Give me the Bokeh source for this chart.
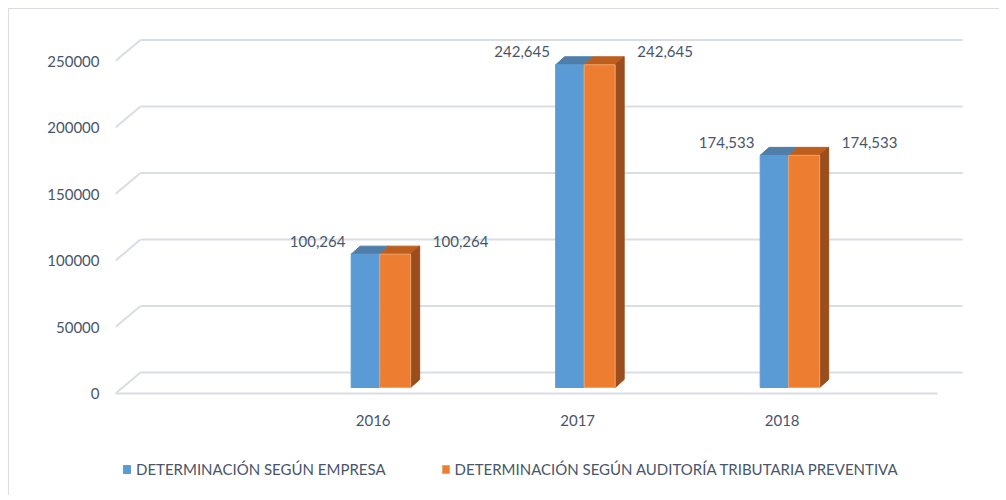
from bokeh.plotting import figure
from bokeh.models import Range1d, FixedTicker, Legend, LegendItem, PrintfTickFormatter
from bokeh.core.properties import value
from bokeh.embed import file_html
from bokeh.resources import INLINE

# ---- data ----
years = ["2016", "2017", "2018"]
empresa = [100264, 242645, 174533]
auditoria = [100264, 242645, 174533]
y_ticks = [0, 50000, 100000, 150000, 200000, 250000]
series_names = ["DETERMINACIÓN SEGÚN EMPRESA",
                "DETERMINACIÓN SEGÚN AUDITORÍA TRIBUTARIA PREVENTIVA"]

# ---- style ----
FONT = "Lato"
TEXT = "#48556a"
GRID = "#d9dde4"
BLUE = "#5b9bd5"
BLUE_TOP = "#4f7ea9"
ORANGE = "#ed7d31"
ORANGE_TOP = "#bd5e1f"
ORANGE_SIDE = "#9a4e1d"

PX_X = 204.5      # px per category unit
PX_Y = 0.00133    # px per value unit
frame_w, frame_h = 851, 465
x_start = -0.26
y_start = -102 / PX_Y          # frame bottom lies 102 px below the zero line

p = figure(frame_width=frame_w, frame_height=frame_h,
           x_range=Range1d(x_start, x_start + frame_w / PX_X),
           y_range=Range1d(y_start, y_start + frame_h / PX_Y),
           output_backend="svg", toolbar_location=None,
           min_border_left=106, min_border_right=33,
           min_border_top=21, min_border_bottom=0)
p.styles = {"border-top": "1px solid #d9dce1", "border-left": "1px solid #d9dce1",
            "margin-left": "8px", "margin-top": "8px"}
p.outline_line_color = None
p.xgrid.visible = False
p.ygrid.visible = False
p.background_fill_color = "white"
p.border_fill_color = "white"

# ---- walls / floor ----
wall_dx = 25 / PX_X
wall_dy = 21 / PX_Y
floor_x0, floor_x1 = -0.26, 3.76
n = len(y_ticks)
p.segment(x0=[floor_x0 + wall_dx] * n, y0=[v + wall_dy for v in y_ticks],
          x1=[floor_x1 + wall_dx] * n, y1=[v + wall_dy for v in y_ticks],
          line_color=GRID, line_width=2)
p.segment(x0=[floor_x0] * n, y0=y_ticks,
          x1=[floor_x0 + wall_dx] * n, y1=[v + wall_dy for v in y_ticks],
          line_color=GRID, line_width=2)
p.segment(x0=[floor_x0], y0=[0], x1=[floor_x1], y1=[0], line_color=GRID, line_width=2)

# ---- bars ----
z0 = 6 / PX_Y
bdx = 9 / PX_X
bdy = 8 / PX_Y
centers = [i + 1 + 6.5 / PX_X for i in range(len(years))]
bw_blue = 28.5 / PX_X
bw_orange = 31 / PX_X

def top_face(l, r, v):
    return ([l, r, r + bdx, l + bdx], [z0 + v, z0 + v, z0 + v + bdy, z0 + v + bdy])

bl = [c - bw_blue for c in centers]
br = centers
ol = centers
orr = [c + bw_orange for c in centers]

xs, ys = zip(*[top_face(l, r, v) for l, r, v in zip(bl, br, empresa)])
p.patches(list(xs), list(ys), fill_color=BLUE_TOP, line_color=BLUE_TOP)
blue_r = p.quad(left=bl, right=br, bottom=[z0] * len(years),
                top=[z0 + v for v in empresa], fill_color=BLUE, line_color=BLUE)

xs, ys = zip(*[top_face(l, r, v) for l, r, v in zip(ol, orr, auditoria)])
p.patches(list(xs), list(ys), fill_color=ORANGE_TOP, line_color=ORANGE_TOP)
side_xs = [[r, r, r + bdx, r + bdx] for r in orr]
side_ys = [[z0, z0 + v, z0 + v + bdy, z0 + bdy] for v in auditoria]
p.patches(side_xs, side_ys, fill_color=ORANGE_SIDE, line_color=ORANGE_SIDE)
orange_r = p.quad(left=ol, right=orr, bottom=[z0] * len(years),
                  top=[z0 + v for v in auditoria], fill_color=ORANGE, line_color="#f0a46a")

# ---- data labels ----
p.text(x=centers, y=[z0 + v for v in empresa], text=[f"{v:,}" for v in empresa],
       x_offset=-62, y_offset=-13, text_align="center", text_baseline="middle",
       text_font=value(FONT), text_font_size="15px", text_color=TEXT)
p.text(x=centers, y=[z0 + v for v in auditoria], text=[f"{v:,}" for v in auditoria],
       x_offset=81, y_offset=-13, text_align="center", text_baseline="middle",
       text_font=value(FONT), text_font_size="15px", text_color=TEXT)

# ---- axes ----
for ax in (p.xaxis, p.yaxis):
    ax.axis_line_color = None
    ax.major_tick_line_color = None
    ax.minor_tick_line_color = None
    ax.major_label_text_font = FONT
    ax.major_label_text_font_size = "15px"
    ax.major_label_text_color = TEXT
p.yaxis.ticker = FixedTicker(ticks=y_ticks)
p.yaxis.formatter = PrintfTickFormatter(format="%d")
p.yaxis.major_label_standoff = 10
p.xaxis.ticker = FixedTicker(ticks=[i + 1 for i in range(len(years))])
p.xaxis.major_label_overrides = {i + 1: y for i, y in enumerate(years)}
p.xaxis.fixed_location = -7 / PX_Y     # just under the floor's front edge
p.xaxis.major_label_standoff = 8

# ---- legend ----
legend = Legend(items=[LegendItem(label=series_names[0], renderers=[blue_r]),
                       LegendItem(label=series_names[1], renderers=[orange_r])],
                orientation="horizontal", location=(7, 17),
                padding=0, margin=0, spacing=55, label_standoff=5,
                glyph_width=9, glyph_height=10,
                label_text_font=FONT, label_text_font_size="15px",
                label_text_color=TEXT, background_fill_alpha=0,
                border_line_color=None)
p.add_layout(legend, "center")

open("out.html", "w").write(file_html(p, INLINE))
